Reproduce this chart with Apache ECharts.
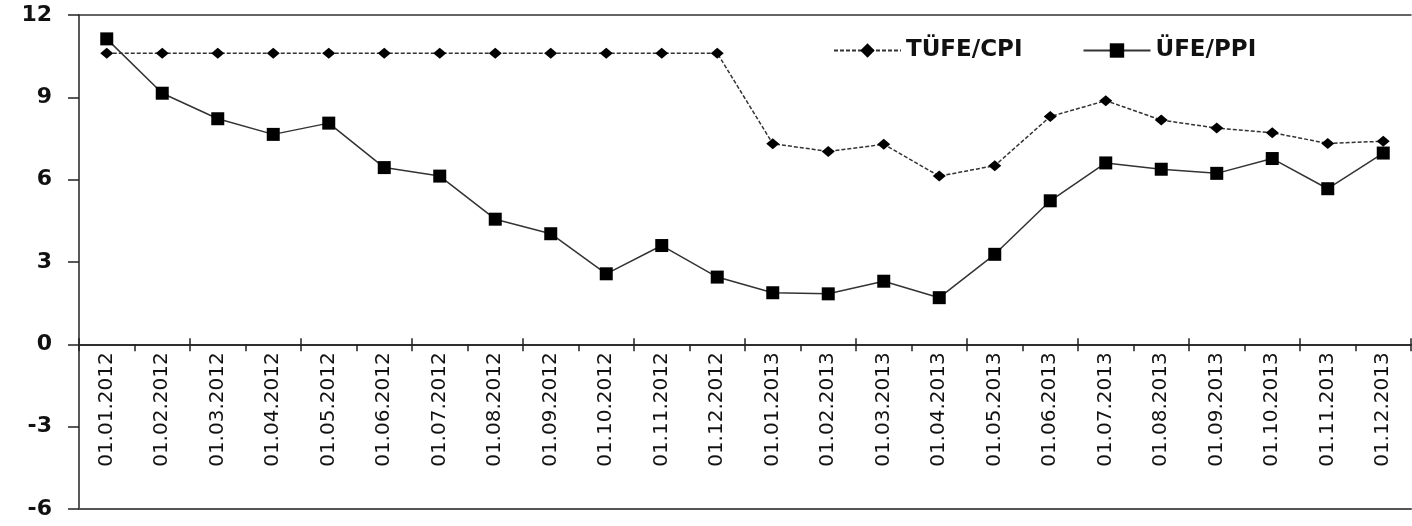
<!DOCTYPE html>
<html>
<head>
<meta charset="utf-8">
<script src="https://cdn.jsdelivr.net/npm/echarts@6/dist/echarts.min.js"></script>
<style>
html,body{margin:0;padding:0;background:#fff;}
#chart{width:1412px;height:526px;}
</style>
</head>
<body>
<div id="chart"></div>
<script>
const categories = ['01.01.2012','01.02.2012','01.03.2012','01.04.2012','01.05.2012','01.06.2012','01.07.2012','01.08.2012','01.09.2012','01.10.2012','01.11.2012','01.12.2012',
  '01.01.2013','01.02.2013','01.03.2013','01.04.2013','01.05.2013','01.06.2013','01.07.2013','01.08.2013','01.09.2013','01.10.2013','01.11.2013','01.12.2013'];
const cpiValues = [10.61,10.61,10.61,10.61,10.61,10.61,10.61,10.61,10.61,10.61,10.61,10.61,
  7.31,7.03,7.29,6.13,6.51,8.30,8.88,8.17,7.88,7.71,7.32,7.40];
const ppiValues = [11.13,9.15,8.22,7.65,8.06,6.44,6.13,4.56,4.03,2.57,3.60,2.45,
  1.88,1.84,2.30,1.70,3.28,5.23,6.61,6.38,6.23,6.77,5.67,6.97];
const seriesNames = ['TÜFE/CPI','ÜFE/PPI'];
const yTicks = {min:-6, max:12, interval:3};

const W = 1412, H = 526;
const chart = echarts.init(document.getElementById('chart'), null, {renderer:'canvas'});
const font = 'DejaVu Sans';
const gridBox = {left:79,right:1,top:15,bottom:17,containLabel:false,outerBoundsMode:'none',show:false};
const plotH = H - gridBox.top - gridBox.bottom;
// place the category axis on the zero line via offset from the grid bottom
const zeroOffset = -plotH * (0 - yTicks.min) / (yTicks.max - yTicks.min);
const plainLineAxis = (grid, pos, color, width) => ({
  gridIndex:grid, type:'category', data:categories, position:pos, offset:0,
  axisLine:{show:true,onZero:false,lineStyle:{color:color,width:width}},
  axisTick:{show:false}, axisLabel:{show:false}, splitLine:{show:false}
});
const hiddenY = (grid) => ({
  gridIndex:grid, type:'value', min:yTicks.min, max:yTicks.max, interval:yTicks.interval,
  axisLine:{show:false}, axisTick:{show:false}, axisLabel:{show:false}, splitLine:{show:false}
});
chart.setOption({
  animation:false,
  backgroundColor:'#fff',
  grid:[Object.assign({}, gridBox), Object.assign({}, gridBox), Object.assign({}, gridBox)],
  legend:{
    left:828, top:34, itemWidth:67, itemHeight:18, itemGap:60,
    data:seriesNames,
    textStyle:{fontFamily:font,fontWeight:'bold',fontSize:23,color:'#111'}
  },
  xAxis:[{
    gridIndex:0, type:'category', data:categories, boundaryGap:true, position:'bottom',
    offset:zeroOffset,
    axisLine:{onZero:false,lineStyle:{color:'#222',width:1.5}},
    axisTick:{show:true,inside:false,length:7,lineStyle:{color:'#222',width:1.5}},
    axisLabel:{rotate:90,margin:8,interval:0,fontFamily:font,fontSize:20,color:'#111'},
    splitLine:{show:false}
  },{
    gridIndex:1, type:'category', data:categories, boundaryGap:true, position:'bottom',
    offset:zeroOffset,
    axisLine:{onZero:false,lineStyle:{color:'#222',width:1.5}},
    axisTick:{show:true,inside:true,length:6,lineStyle:{color:'#222',width:1.5}},
    axisLabel:{show:false},
    splitLine:{show:false}
  },
  plainLineAxis(0, 'top', '#333', 1.5),
  plainLineAxis(2, 'bottom', '#555', 2)
  ],
  yAxis:[{
    gridIndex:0, type:'value', min:yTicks.min, max:yTicks.max, interval:yTicks.interval,
    axisLine:{show:true,onZero:false,lineStyle:{color:'#222',width:1.5}},
    axisTick:{show:true,inside:false,length:11,lineStyle:{color:'#222',width:1.5}},
    axisLabel:{margin:27,fontFamily:font,fontWeight:'bold',fontSize:22,color:'#111'},
    splitLine:{show:false}
  }, hiddenY(1), hiddenY(2)],
  series:[{
    name:seriesNames[0], type:'line', data:cpiValues, xAxisIndex:0, yAxisIndex:0,
    symbol:'diamond', symbolSize:[13,11], showAllSymbol:true,
    lineStyle:{color:'#333',width:1.5,type:[4,2]},
    itemStyle:{color:'#000'}
  },{
    name:seriesNames[1], type:'line', data:ppiValues, xAxisIndex:0, yAxisIndex:0,
    symbol:'rect', symbolSize:13, showAllSymbol:true,
    lineStyle:{color:'#333',width:1.5,type:'solid'},
    itemStyle:{color:'#000'}
  }]
});
</script>
</body>
</html>
